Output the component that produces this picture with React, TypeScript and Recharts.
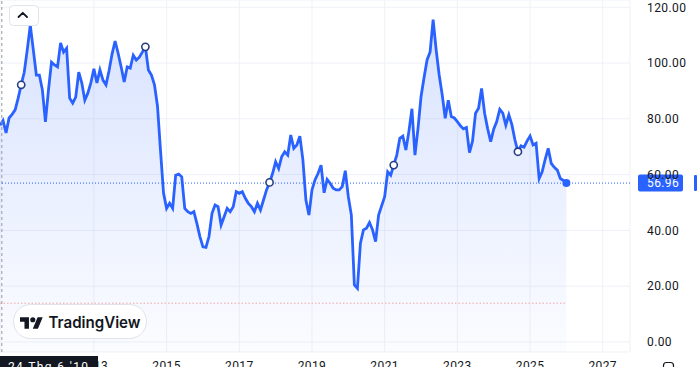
import { ComposedChart, Area, XAxis, YAxis, CartesianGrid, ReferenceLine } from "recharts";

// monthly closes, first point = Jun 2010
const closes2010 = [77.7, 79.4, 74.9, 80.3, 81.6, 83.2, 87.4];
const closes2011 = [92.2, 96.7, 104.7, 113.6, 104.7, 95.7, 95.7, 90.3, 78.9, 90.3, 100.3, 99.3];
const closes2012 = [98.6, 107.2, 103.9, 105.3, 87.4, 85.6, 87.8, 96.7, 92.9, 86.7, 89.2, 92.9];
const closes2013 = [97.9, 92.9, 97.5, 93.9, 92.2, 97.2, 103.2, 107.9, 103.5, 98.6, 93.2, 98.6];
const closes2014 = [98.2, 102.8, 101.1, 102.1, 103.9, 105.8, 97.5, 95.7, 92.2, 84.5, 68.5, 53.3];
const closes2015 = [47.9, 49.7, 47.9, 59.8, 60.2, 59.2, 47.9, 46.7, 46.1, 46.7, 42.5, 37.8];
const closes2016 = [34.1, 33.9, 37.8, 46.1, 49.1, 48.5, 41.9, 44.9, 47.9, 46.7, 48.5, 53.9];
const closes2017 = [53.3, 53.9, 51.5, 49.7, 48.5, 46.7, 49.7, 47.3, 50.9, 54.5, 57.2, 60.4];
const closes2018 = [64.6, 62.2, 66.4, 68.2, 67.0, 74.2, 69.4, 70.6, 73.8, 65.3, 50.9, 45.5];
const closes2019 = [54.5, 58.1, 60.4, 63.4, 53.5, 58.3, 56.9, 55.1, 54.5, 54.5, 55.7, 61.4];
const closes2020 = [52.1, 45.5, 20.4, 19.2, 35.4, 40.2, 40.8, 42.8, 40.2, 36.0, 45.5, 48.8];
const closes2021 = [52.1, 61.0, 59.8, 63.4, 67.0, 73.0, 73.8, 68.8, 75.5, 83.6, 67.0, 76.5];
const closes2022 = [87.9, 94.7, 101.1, 104.0, 115.6, 104.7, 95.7, 88.6, 80.2, 86.7, 80.8, 80.3];
const closes2023 = [79.0, 77.5, 76.4, 76.9, 67.9, 72.0, 82.0, 83.8, 90.9, 82.0, 76.5, 71.8];
const closes2024 = [76.3, 79.0, 83.4, 82.0, 77.7, 81.4, 77.9, 72.5, 68.2, 70.3, 69.8, 72.0];
const closes2025 = [73.8, 70.6, 71.2, 58.6, 61.0, 65.5, 69.4, 64.0, 62.6, 61.6, 58.6, 57.9];
const closes2026 = [56.96];

const FIRST_YEAR = 2010;
const FIRST_MONTH = 6;

const yearTicks = [2013, 2015, 2017, 2019, 2021, 2023, 2025, 2027];
const priceTicks = [0, 20, 40, 60, 80, 100, 120];
const markerIdx = [7, 48, 89, 130, 171];
const lastPrice = 56.96;
const lowLine = 13.9;
const crosshairAt = 0.6;
const crosshairLabel = "24 Thg 6 '10";

const Y_MIN = -3.6;
const Y_MAX = 122.6;
const X_MAX = 208;

const closes = [
  ...closes2010, ...closes2011, ...closes2012, ...closes2013, ...closes2014,
  ...closes2015, ...closes2016, ...closes2017, ...closes2018, ...closes2019,
  ...closes2020, ...closes2021, ...closes2022, ...closes2023, ...closes2024,
  ...closes2025, ...closes2026,
];
const data = closes.map((v, i) => ({ i, v }));

const monthIndex = (year: number) => (year - FIRST_YEAR) * 12 - (FIRST_MONTH - 1);
const xTicks = yearTicks.map(monthIndex);

const BLUE = "#2962FF";
const TEXT = "#131722";
const FONT = "Roboto, 'DejaVu Sans', sans-serif";

function TimeTick({ x, payload }: any) {
  const year = yearTicks[xTicks.indexOf(payload.value)];
  return (
    <text x={x} y={370} textAnchor="middle" fontSize={12} fill={TEXT} fontFamily={FONT} letterSpacing={0.4}>
      {year}
    </text>
  );
}

function PriceTick({ y, payload }: any) {
  return (
    <text x={647} y={y} dy="0.36em" textAnchor="start" fontSize={12} fill={TEXT} fontFamily={FONT} letterSpacing={0.4}>
      {Number(payload.value).toFixed(2)}
    </text>
  );
}

function PriceTag({ viewBox, price }: any) {
  const { x, y, width } = viewBox;
  const left = x + width + 8;
  return (
    <g>
      <rect x={left} y={y - 8.5} width={45} height={17} rx={2} fill={BLUE} />
      <text x={left + 9} y={y} dy="0.36em" fill="#fff" fontSize={12} fontFamily={FONT} letterSpacing={0.4}>
        {price}
      </text>
      <rect x={694} y={y - 8} width={3} height={16} rx={1} fill={BLUE} />
    </g>
  );
}

const renderDot = (p: any) => {
  const { cx, cy, index } = p;
  if (index === data.length - 1) {
    return <circle key={`d${index}`} cx={cx} cy={cy} r={4} fill={BLUE} />;
  }
  if (markerIdx.includes(index)) {
    return <circle key={`d${index}`} cx={cx} cy={cy} r={3.6} fill="#fff" stroke="#253e86" strokeWidth={1.6} />;
  }
  return <g key={`d${index}`} />;
};

export default function App() {
  return (
    <div style={{ position: "absolute", left: 0, top: 0, width: 698, height: 367, overflow: "hidden", background: "#fff" }}>
      <ComposedChart width={698} height={380} data={data} margin={{ top: 0, right: 0, left: 0, bottom: 0 }}>
        <defs>
          <linearGradient id="areaFill" x1="0" y1="0" x2="0" y2="1">
            <stop offset="0%" stopColor={BLUE} stopOpacity={0.3} />
            <stop offset="100%" stopColor={BLUE} stopOpacity={0.03} />
          </linearGradient>
        </defs>
        <CartesianGrid stroke="#eef1f6" />
        <XAxis
          type="number"
          dataKey="i"
          domain={[0, X_MAX]}
          ticks={xTicks}
          tick={<TimeTick />}
          axisLine={false}
          tickLine={false}
          height={28}
          interval={0}
        />
        <YAxis
          orientation="right"
          type="number"
          domain={[Y_MIN, Y_MAX]}
          ticks={priceTicks}
          tick={<PriceTick />}
          axisLine={false}
          tickLine={false}
          width={68}
          interval={0}
        />
        <ReferenceLine x={crosshairAt} stroke="#9598a1" strokeDasharray="3 3" />
        <ReferenceLine
          segment={[{ x: 0, y: lowLine }, { x: data.length - 1, y: lowLine }]}
          stroke="#f4a4a4"
          strokeDasharray="1.5 2"
        />
        <Area
          type="linear"
          dataKey="v"
          stroke={BLUE}
          strokeWidth={2.8}
          fill="url(#areaFill)"
          baseValue={Y_MIN}
          dot={renderDot}
          activeDot={false}
          isAnimationActive={false}
        />
        <ReferenceLine
          y={lastPrice}
          stroke={BLUE}
          strokeDasharray="1 2"
          label={<PriceTag price={lastPrice.toFixed(2)} />}
        />
      </ComposedChart>

      <svg width={698} height={380} style={{ position: "absolute", left: 0, top: 0, pointerEvents: "none" }}>
        {/* collapse button */}
        <rect x={9.5} y={5.5} width={29} height={20} rx={4} fill="#fff" stroke="#e0e3eb" />
        <polyline points="18.5,17 22.8,12.8 27,17" fill="none" stroke={TEXT} strokeWidth={1.8} strokeLinecap="round" strokeLinejoin="round" />

        {/* logo */}
        <rect x={13.5} y={304.5} width={133} height={34} rx={17} fill="#fff" stroke="#e0e3eb" />
        <g transform="translate(20 314.6) scale(0.64)" fill={TEXT}>
          <path d="M14 22H7V11H0V4h14v18zM28 22h-8l7.5-18h8L28 22z" />
          <circle cx={20} cy={8} r={4} />
        </g>
        <text x={48.5} y={328.3} fontSize={16} fontWeight={600} fill={TEXT} fontFamily="Inter, 'Noto Sans', sans-serif" textLength={92} lengthAdjust="spacingAndGlyphs">
          TradingView
        </text>

        {/* crosshair time label */}
        <rect x={0} y={356} width={98} height={24} fill={TEXT} />
        <text x={8} y={370.5} fontSize={12} fill="#fff" fontFamily={FONT} textLength={80} lengthAdjust="spacing">
          {crosshairLabel}
        </text>

        <rect x={663.5} y={362.5} width={10} height={10} rx={3} fill="none" stroke={TEXT} strokeWidth={1.2} />
      </svg>
    </div>
  );
}
